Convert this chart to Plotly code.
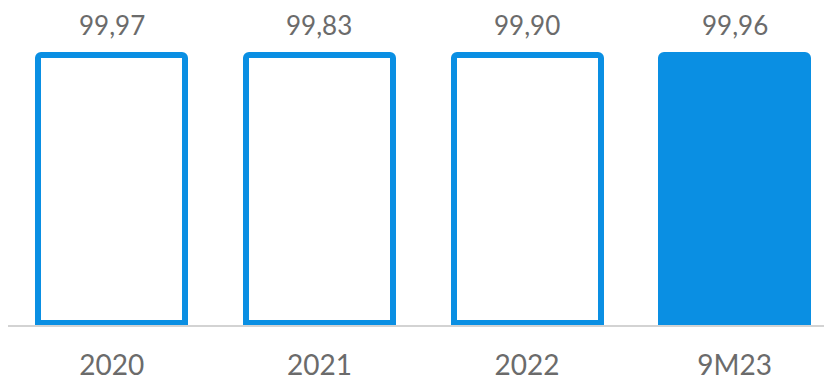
import plotly.graph_objects as go

categories = ["2020", "2021", "2022", "9M23"]
values = [99.97, 99.83, 99.90, 99.96]
fill_colors = ["#ffffff", "#ffffff", "#ffffff", "#0a8fe3"]
label_texts = [f"{v:.2f}".replace(".", ",") for v in values]

BLUE = "#0a8fe3"
GRAY = "#6b6b6b"
FONT = "Lato"

fig = go.Figure()
fig.add_trace(go.Bar(
    x=categories,
    y=values,
    width=0.708,
    marker=dict(color=fill_colors, line=dict(color=BLUE, width=6), cornerradius=3),
    hoverinfo="skip",
))

for i, (v, t) in enumerate(zip(values, label_texts)):
    fig.add_annotation(x=i, y=v, xref="x", yref="y", text=t, showarrow=False,
                       yanchor="bottom", yshift=12,
                       font=dict(family=FONT, size=26, color=GRAY))

fig.update_layout(
    width=824, height=383,
    margin=dict(l=8, r=0, t=20, b=58, autoexpand=False),
    paper_bgcolor="white", plot_bgcolor="white",
    showlegend=False,
    bargap=0,
    xaxis=dict(
        type="category",
        range=[-0.5, 3.43],
        automargin=False,
        showline=True, linecolor="#d3d3d3", linewidth=2,
        showgrid=False, zeroline=False,
        ticks="", ticklabelstandoff=14,
        tickfont=dict(family=FONT, size=28, color=GRAY),
    ),
    yaxis=dict(range=[-0.75, 112.9], visible=False, showgrid=False,
               zeroline=False, automargin=False),
)

fig.write_html("out.html")
